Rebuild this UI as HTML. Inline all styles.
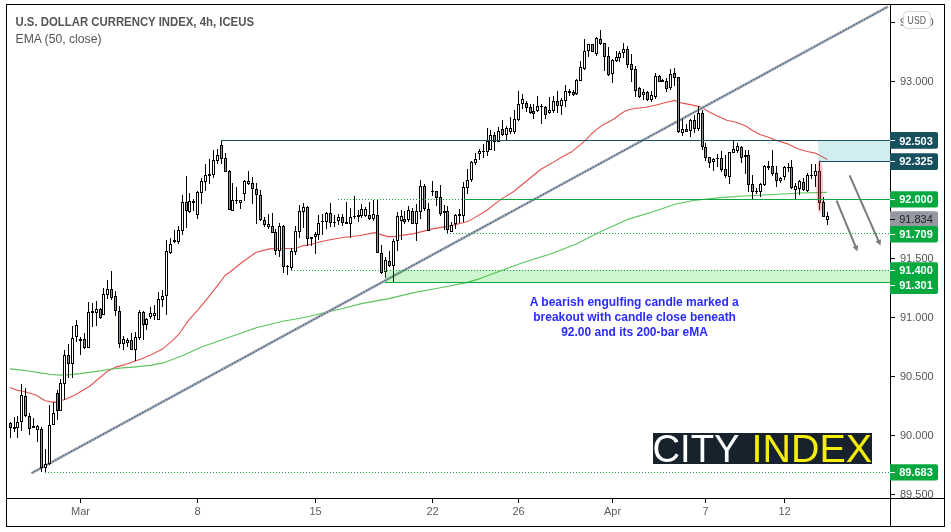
<!DOCTYPE html><html><head><meta charset="utf-8"><style>html,body{margin:0;padding:0;background:#fff;}svg{display:block;will-change:transform}text{font-family:"Liberation Sans",Arial,sans-serif}</style></head><body>
<svg width="951" height="532" viewBox="0 0 951 532">
<rect x="0" y="0" width="951" height="532" fill="#fff"/>
<polyline points="10.0,387.5 17.5,390.4 22.0,391.0 30.0,393.2 36.5,395.2 45.0,400.8 55.0,402.4 65.0,399.5 75.0,395.0 90.0,386.0 97.0,380.0 107.0,371.6 115.0,367.4 125.0,364.6 130.0,362.9 140.3,359.2 150.7,355.0 162.0,349.3 171.3,341.6 179.6,333.3 188.9,319.9 198.2,309.6 208.5,297.2 218.8,283.8 225.0,275.5 230.0,272.0 243.1,261.5 256.3,252.3 269.4,248.9 282.6,248.5 296.0,248.2 303.3,245.6 310.7,244.5 320.4,241.8 332.7,239.2 345.0,237.3 356.0,236.0 361.4,235.3 374.6,232.6 387.7,236.6 393.4,236.6 414.0,233.6 432.6,228.9 450.0,225.9 465.7,222.0 470.0,220.4 485.8,211.0 501.5,198.9 513.4,191.8 527.8,180.0 540.5,169.5 551.0,163.6 561.5,157.3 572.1,151.4 580.9,144.4 585.6,140.2 591.3,134.0 596.9,129.3 602.6,125.1 608.2,122.3 613.9,119.0 619.5,114.8 625.2,111.0 630.8,109.2 636.4,108.3 645.7,107.2 656.2,105.0 666.7,102.3 674.7,100.4 681.4,102.9 700.0,106.6 707.9,111.3 715.8,115.2 726.8,120.3 736.3,122.3 745.7,126.0 752.0,130.2 759.9,134.5 767.8,137.0 775.7,140.2 786.8,143.6 797.8,148.7 807.3,151.5 815.1,153.1 819.9,155.5 827.4,159.4" fill="none" stroke="#e4534f" stroke-width="1.1" stroke-linejoin="round"/>
<polyline points="10.0,368.9 20.0,369.9 30.0,371.2 40.0,372.9 50.0,374.3 60.0,375.1 70.0,374.6 80.0,373.6 95.0,371.6 110.0,369.2 125.0,367.6 130.0,367.4 150.7,365.4 163.0,362.9 181.7,356.1 202.3,346.8 230.0,336.9 240.0,333.4 256.3,327.8 282.6,321.2 300.0,318.3 310.0,316.3 325.0,312.5 340.0,309.3 361.4,303.6 387.7,298.9 414.0,292.6 440.3,287.8 466.6,282.6 480.0,278.6 496.3,272.5 522.6,262.8 548.9,254.4 575.2,244.4 601.4,231.3 627.7,219.4 654.0,211.5 675.0,204.2 693.4,200.5 720.0,197.6 740.0,196.2 765.0,195.0 800.0,193.0 827.0,192.4" fill="none" stroke="#5cc45c" stroke-width="1.1" stroke-linejoin="round"/>
<line x1="31.6" y1="473.2" x2="888" y2="6.6" stroke="#a3a5a9" stroke-width="2.6"/>
<line x1="31.6" y1="473.2" x2="888" y2="6.6" stroke="#2f5f99" stroke-width="1.3" stroke-dasharray="1.2 1.8"/>
<g shape-rendering="crispEdges"><rect x="10" y="422" width="1" height="16" fill="#000"/><rect x="9" y="423" width="3" height="5" fill="#000"/><rect x="10" y="424" width="1" height="3" fill="#8d909c"/><rect x="14" y="417" width="1" height="15" fill="#000"/><rect x="13" y="427" width="3" height="2" fill="#000"/><rect x="17" y="416" width="1" height="22" fill="#000"/><rect x="16" y="422" width="3" height="6" fill="#000"/><rect x="17" y="423" width="1" height="4" fill="#fff"/><rect x="21" y="384" width="1" height="47" fill="#000"/><rect x="20" y="395" width="3" height="27" fill="#000"/><rect x="21" y="396" width="1" height="25" fill="#fff"/><rect x="25" y="388" width="1" height="29" fill="#000"/><rect x="24" y="396" width="3" height="20" fill="#000"/><rect x="25" y="397" width="1" height="18" fill="#8d909c"/><rect x="29" y="413" width="1" height="22" fill="#000"/><rect x="28" y="416" width="3" height="13" fill="#000"/><rect x="29" y="417" width="1" height="11" fill="#8d909c"/><rect x="33" y="418" width="1" height="10" fill="#000"/><rect x="32" y="426" width="3" height="2" fill="#000"/><rect x="37" y="425" width="1" height="17" fill="#000"/><rect x="36" y="426" width="3" height="4" fill="#000"/><rect x="37" y="427" width="1" height="2" fill="#fff"/><rect x="41" y="427" width="1" height="45" fill="#000"/><rect x="40" y="429" width="3" height="39" fill="#000"/><rect x="41" y="430" width="1" height="37" fill="#8d909c"/><rect x="45" y="449" width="1" height="24" fill="#000"/><rect x="44" y="464" width="3" height="4" fill="#000"/><rect x="45" y="465" width="1" height="2" fill="#fff"/><rect x="49" y="405" width="1" height="60" fill="#000"/><rect x="48" y="425" width="3" height="39" fill="#000"/><rect x="49" y="426" width="1" height="37" fill="#fff"/><rect x="53" y="402" width="1" height="23" fill="#000"/><rect x="52" y="413" width="3" height="12" fill="#000"/><rect x="53" y="414" width="1" height="10" fill="#fff"/><rect x="57" y="390" width="1" height="30" fill="#000"/><rect x="56" y="393" width="3" height="18" fill="#000"/><rect x="57" y="394" width="1" height="16" fill="#8d909c"/><rect x="60" y="379" width="1" height="32" fill="#000"/><rect x="59" y="383" width="3" height="28" fill="#000"/><rect x="60" y="384" width="1" height="26" fill="#fff"/><rect x="64" y="350" width="1" height="50" fill="#000"/><rect x="63" y="355" width="3" height="29" fill="#000"/><rect x="64" y="356" width="1" height="27" fill="#fff"/><rect x="68" y="344" width="1" height="34" fill="#000"/><rect x="67" y="355" width="3" height="9" fill="#000"/><rect x="68" y="356" width="1" height="7" fill="#8d909c"/><rect x="72" y="326" width="1" height="52" fill="#000"/><rect x="71" y="338" width="3" height="26" fill="#000"/><rect x="72" y="339" width="1" height="24" fill="#fff"/><rect x="76" y="320" width="1" height="22" fill="#000"/><rect x="75" y="325" width="3" height="12" fill="#000"/><rect x="76" y="326" width="1" height="10" fill="#fff"/><rect x="80" y="337" width="1" height="18" fill="#000"/><rect x="79" y="339" width="3" height="2" fill="#000"/><rect x="84" y="333" width="1" height="16" fill="#000"/><rect x="83" y="339" width="3" height="9" fill="#000"/><rect x="84" y="340" width="1" height="7" fill="#8d909c"/><rect x="88" y="302" width="1" height="46" fill="#000"/><rect x="87" y="312" width="3" height="36" fill="#000"/><rect x="88" y="313" width="1" height="34" fill="#fff"/><rect x="92" y="303" width="1" height="24" fill="#000"/><rect x="91" y="311" width="3" height="2" fill="#000"/><rect x="96" y="301" width="1" height="25" fill="#000"/><rect x="95" y="309" width="3" height="4" fill="#000"/><rect x="96" y="310" width="1" height="2" fill="#fff"/><rect x="100" y="308" width="1" height="11" fill="#000"/><rect x="99" y="309" width="3" height="9" fill="#000"/><rect x="100" y="310" width="1" height="7" fill="#8d909c"/><rect x="103" y="288" width="1" height="27" fill="#000"/><rect x="102" y="294" width="3" height="21" fill="#000"/><rect x="103" y="295" width="1" height="19" fill="#fff"/><rect x="107" y="280" width="1" height="19" fill="#000"/><rect x="106" y="289" width="3" height="6" fill="#000"/><rect x="107" y="290" width="1" height="4" fill="#fff"/><rect x="111" y="271" width="1" height="29" fill="#000"/><rect x="110" y="289" width="3" height="9" fill="#000"/><rect x="111" y="290" width="1" height="7" fill="#8d909c"/><rect x="115" y="291" width="1" height="25" fill="#000"/><rect x="114" y="296" width="3" height="15" fill="#000"/><rect x="115" y="297" width="1" height="13" fill="#8d909c"/><rect x="119" y="306" width="1" height="42" fill="#000"/><rect x="118" y="311" width="3" height="33" fill="#000"/><rect x="119" y="312" width="1" height="31" fill="#8d909c"/><rect x="123" y="336" width="1" height="14" fill="#000"/><rect x="122" y="339" width="3" height="5" fill="#000"/><rect x="123" y="340" width="1" height="3" fill="#fff"/><rect x="127" y="338" width="1" height="9" fill="#000"/><rect x="126" y="340" width="3" height="3" fill="#000"/><rect x="127" y="341" width="1" height="1" fill="#fff"/><rect x="131" y="333" width="1" height="17" fill="#000"/><rect x="130" y="340" width="3" height="10" fill="#000"/><rect x="131" y="341" width="1" height="8" fill="#8d909c"/><rect x="135" y="332" width="1" height="29" fill="#000"/><rect x="134" y="337" width="3" height="13" fill="#000"/><rect x="135" y="338" width="1" height="11" fill="#fff"/><rect x="139" y="310" width="1" height="30" fill="#000"/><rect x="138" y="312" width="3" height="26" fill="#000"/><rect x="139" y="313" width="1" height="24" fill="#fff"/><rect x="143" y="311" width="1" height="29" fill="#000"/><rect x="142" y="312" width="3" height="13" fill="#000"/><rect x="143" y="313" width="1" height="11" fill="#8d909c"/><rect x="146" y="318" width="1" height="12" fill="#000"/><rect x="145" y="319" width="3" height="6" fill="#000"/><rect x="146" y="320" width="1" height="4" fill="#fff"/><rect x="150" y="307" width="1" height="12" fill="#000"/><rect x="149" y="313" width="3" height="4" fill="#000"/><rect x="150" y="314" width="1" height="2" fill="#fff"/><rect x="154" y="305" width="1" height="15" fill="#000"/><rect x="153" y="313" width="3" height="3" fill="#000"/><rect x="154" y="314" width="1" height="1" fill="#fff"/><rect x="158" y="292" width="1" height="28" fill="#000"/><rect x="157" y="299" width="3" height="21" fill="#000"/><rect x="158" y="300" width="1" height="19" fill="#fff"/><rect x="162" y="290" width="1" height="17" fill="#000"/><rect x="161" y="296" width="3" height="4" fill="#000"/><rect x="162" y="297" width="1" height="2" fill="#fff"/><rect x="166" y="240" width="1" height="75" fill="#000"/><rect x="165" y="251" width="3" height="45" fill="#000"/><rect x="166" y="252" width="1" height="43" fill="#fff"/><rect x="170" y="238" width="1" height="16" fill="#000"/><rect x="169" y="244" width="3" height="9" fill="#000"/><rect x="170" y="245" width="1" height="7" fill="#fff"/><rect x="174" y="230" width="1" height="13" fill="#000"/><rect x="173" y="240" width="3" height="2" fill="#000"/><rect x="178" y="226" width="1" height="18" fill="#000"/><rect x="177" y="230" width="3" height="12" fill="#000"/><rect x="178" y="231" width="1" height="10" fill="#fff"/><rect x="182" y="195" width="1" height="40" fill="#000"/><rect x="181" y="202" width="3" height="29" fill="#000"/><rect x="182" y="203" width="1" height="27" fill="#fff"/><rect x="186" y="176" width="1" height="52" fill="#000"/><rect x="185" y="202" width="3" height="9" fill="#000"/><rect x="186" y="203" width="1" height="7" fill="#8d909c"/><rect x="189" y="193" width="1" height="20" fill="#000"/><rect x="188" y="201" width="3" height="11" fill="#000"/><rect x="189" y="202" width="1" height="9" fill="#fff"/><rect x="193" y="199" width="1" height="12" fill="#000"/><rect x="192" y="201" width="3" height="2" fill="#000"/><rect x="197" y="191" width="1" height="28" fill="#000"/><rect x="196" y="192" width="3" height="23" fill="#000"/><rect x="197" y="193" width="1" height="21" fill="#fff"/><rect x="201" y="178" width="1" height="26" fill="#000"/><rect x="200" y="181" width="3" height="12" fill="#000"/><rect x="201" y="182" width="1" height="10" fill="#fff"/><rect x="205" y="164" width="1" height="27" fill="#000"/><rect x="204" y="175" width="3" height="7" fill="#000"/><rect x="205" y="176" width="1" height="5" fill="#fff"/><rect x="209" y="159" width="1" height="25" fill="#000"/><rect x="208" y="174" width="3" height="2" fill="#000"/><rect x="213" y="150" width="1" height="28" fill="#000"/><rect x="212" y="160" width="3" height="15" fill="#000"/><rect x="213" y="161" width="1" height="13" fill="#fff"/><rect x="217" y="149" width="1" height="15" fill="#000"/><rect x="216" y="155" width="3" height="6" fill="#000"/><rect x="217" y="156" width="1" height="4" fill="#fff"/><rect x="221" y="140" width="1" height="24" fill="#000"/><rect x="220" y="145" width="3" height="14" fill="#000"/><rect x="221" y="146" width="1" height="12" fill="#8d909c"/><rect x="225" y="153" width="1" height="19" fill="#000"/><rect x="224" y="158" width="3" height="14" fill="#000"/><rect x="225" y="159" width="1" height="12" fill="#8d909c"/><rect x="229" y="170" width="1" height="40" fill="#000"/><rect x="228" y="171" width="3" height="39" fill="#000"/><rect x="229" y="172" width="1" height="37" fill="#8d909c"/><rect x="232" y="183" width="1" height="28" fill="#000"/><rect x="231" y="200" width="3" height="11" fill="#000"/><rect x="232" y="201" width="1" height="9" fill="#fff"/><rect x="236" y="187" width="1" height="17" fill="#000"/><rect x="235" y="200" width="3" height="1" fill="#000"/><rect x="240" y="200" width="1" height="9" fill="#000"/><rect x="239" y="200" width="3" height="3" fill="#000"/><rect x="240" y="201" width="1" height="1" fill="#fff"/><rect x="244" y="180" width="1" height="21" fill="#000"/><rect x="243" y="181" width="3" height="13" fill="#000"/><rect x="244" y="182" width="1" height="11" fill="#fff"/><rect x="248" y="171" width="1" height="14" fill="#000"/><rect x="247" y="181" width="3" height="3" fill="#000"/><rect x="248" y="182" width="1" height="1" fill="#fff"/><rect x="252" y="177" width="1" height="27" fill="#000"/><rect x="251" y="183" width="3" height="6" fill="#000"/><rect x="252" y="184" width="1" height="4" fill="#8d909c"/><rect x="256" y="183" width="1" height="41" fill="#000"/><rect x="255" y="189" width="3" height="6" fill="#000"/><rect x="256" y="190" width="1" height="4" fill="#8d909c"/><rect x="260" y="190" width="1" height="31" fill="#000"/><rect x="259" y="195" width="3" height="25" fill="#000"/><rect x="260" y="196" width="1" height="23" fill="#8d909c"/><rect x="264" y="217" width="1" height="10" fill="#000"/><rect x="263" y="220" width="3" height="5" fill="#000"/><rect x="264" y="221" width="1" height="3" fill="#8d909c"/><rect x="268" y="214" width="1" height="15" fill="#000"/><rect x="267" y="224" width="3" height="3" fill="#000"/><rect x="268" y="225" width="1" height="1" fill="#fff"/><rect x="272" y="213" width="1" height="20" fill="#000"/><rect x="271" y="226" width="3" height="7" fill="#000"/><rect x="272" y="227" width="1" height="5" fill="#8d909c"/><rect x="275" y="229" width="1" height="26" fill="#000"/><rect x="274" y="232" width="3" height="19" fill="#000"/><rect x="275" y="233" width="1" height="17" fill="#8d909c"/><rect x="279" y="223" width="1" height="34" fill="#000"/><rect x="278" y="226" width="3" height="25" fill="#000"/><rect x="279" y="227" width="1" height="23" fill="#fff"/><rect x="283" y="225" width="1" height="48" fill="#000"/><rect x="282" y="226" width="3" height="41" fill="#000"/><rect x="283" y="227" width="1" height="39" fill="#8d909c"/><rect x="287" y="265" width="1" height="10" fill="#000"/><rect x="286" y="266" width="3" height="1" fill="#000"/><rect x="291" y="248" width="1" height="23" fill="#000"/><rect x="290" y="251" width="3" height="17" fill="#000"/><rect x="291" y="252" width="1" height="15" fill="#fff"/><rect x="295" y="226" width="1" height="29" fill="#000"/><rect x="294" y="231" width="3" height="21" fill="#000"/><rect x="295" y="232" width="1" height="19" fill="#fff"/><rect x="299" y="205" width="1" height="33" fill="#000"/><rect x="298" y="211" width="3" height="21" fill="#000"/><rect x="299" y="212" width="1" height="19" fill="#fff"/><rect x="303" y="203" width="1" height="25" fill="#000"/><rect x="302" y="207" width="3" height="5" fill="#000"/><rect x="303" y="208" width="1" height="3" fill="#fff"/><rect x="307" y="206" width="1" height="40" fill="#000"/><rect x="306" y="207" width="3" height="32" fill="#000"/><rect x="307" y="208" width="1" height="30" fill="#8d909c"/><rect x="311" y="237" width="1" height="9" fill="#000"/><rect x="310" y="237" width="3" height="2" fill="#000"/><rect x="315" y="232" width="1" height="22" fill="#000"/><rect x="314" y="234" width="3" height="3" fill="#000"/><rect x="315" y="235" width="1" height="1" fill="#fff"/><rect x="318" y="215" width="1" height="25" fill="#000"/><rect x="317" y="223" width="3" height="12" fill="#000"/><rect x="318" y="224" width="1" height="10" fill="#fff"/><rect x="322" y="214" width="1" height="21" fill="#000"/><rect x="321" y="221" width="3" height="1" fill="#000"/><rect x="326" y="212" width="1" height="17" fill="#000"/><rect x="325" y="213" width="3" height="9" fill="#000"/><rect x="326" y="214" width="1" height="7" fill="#fff"/><rect x="330" y="203" width="1" height="24" fill="#000"/><rect x="329" y="213" width="3" height="10" fill="#000"/><rect x="330" y="214" width="1" height="8" fill="#8d909c"/><rect x="334" y="215" width="1" height="12" fill="#000"/><rect x="333" y="222" width="3" height="1" fill="#000"/><rect x="338" y="214" width="1" height="11" fill="#000"/><rect x="337" y="217" width="3" height="4" fill="#000"/><rect x="338" y="218" width="1" height="2" fill="#fff"/><rect x="342" y="214" width="1" height="12" fill="#000"/><rect x="341" y="217" width="3" height="6" fill="#000"/><rect x="342" y="218" width="1" height="4" fill="#8d909c"/><rect x="346" y="202" width="1" height="22" fill="#000"/><rect x="345" y="222" width="3" height="2" fill="#000"/><rect x="350" y="208" width="1" height="30" fill="#000"/><rect x="349" y="217" width="3" height="7" fill="#000"/><rect x="350" y="218" width="1" height="5" fill="#fff"/><rect x="354" y="196" width="1" height="23" fill="#000"/><rect x="353" y="216" width="3" height="1" fill="#000"/><rect x="358" y="210" width="1" height="12" fill="#000"/><rect x="357" y="215" width="3" height="2" fill="#000"/><rect x="361" y="204" width="1" height="14" fill="#000"/><rect x="360" y="209" width="3" height="7" fill="#000"/><rect x="361" y="210" width="1" height="5" fill="#fff"/><rect x="365" y="207" width="1" height="10" fill="#000"/><rect x="364" y="209" width="3" height="7" fill="#000"/><rect x="365" y="210" width="1" height="5" fill="#fff"/><rect x="369" y="202" width="1" height="18" fill="#000"/><rect x="368" y="215" width="3" height="4" fill="#000"/><rect x="369" y="216" width="1" height="2" fill="#8d909c"/><rect x="373" y="200" width="1" height="21" fill="#000"/><rect x="372" y="214" width="3" height="5" fill="#000"/><rect x="373" y="215" width="1" height="3" fill="#fff"/><rect x="377" y="199" width="1" height="54" fill="#000"/><rect x="376" y="215" width="3" height="38" fill="#000"/><rect x="377" y="216" width="1" height="36" fill="#8d909c"/><rect x="381" y="245" width="1" height="29" fill="#000"/><rect x="380" y="253" width="3" height="20" fill="#000"/><rect x="381" y="254" width="1" height="18" fill="#8d909c"/><rect x="385" y="257" width="1" height="21" fill="#000"/><rect x="384" y="260" width="3" height="12" fill="#000"/><rect x="385" y="261" width="1" height="10" fill="#fff"/><rect x="389" y="251" width="1" height="16" fill="#000"/><rect x="388" y="261" width="3" height="5" fill="#000"/><rect x="389" y="262" width="1" height="3" fill="#8d909c"/><rect x="393" y="239" width="1" height="44" fill="#000"/><rect x="392" y="241" width="3" height="25" fill="#000"/><rect x="393" y="242" width="1" height="23" fill="#fff"/><rect x="397" y="212" width="1" height="39" fill="#000"/><rect x="396" y="216" width="3" height="25" fill="#000"/><rect x="397" y="217" width="1" height="23" fill="#fff"/><rect x="401" y="210" width="1" height="30" fill="#000"/><rect x="400" y="216" width="3" height="5" fill="#000"/><rect x="401" y="217" width="1" height="3" fill="#fff"/><rect x="404" y="211" width="1" height="13" fill="#000"/><rect x="403" y="219" width="3" height="3" fill="#000"/><rect x="404" y="220" width="1" height="1" fill="#8d909c"/><rect x="408" y="206" width="1" height="16" fill="#000"/><rect x="407" y="210" width="3" height="10" fill="#000"/><rect x="408" y="211" width="1" height="8" fill="#fff"/><rect x="412" y="208" width="1" height="16" fill="#000"/><rect x="411" y="211" width="3" height="13" fill="#000"/><rect x="412" y="212" width="1" height="11" fill="#8d909c"/><rect x="416" y="204" width="1" height="37" fill="#000"/><rect x="415" y="211" width="3" height="13" fill="#000"/><rect x="416" y="212" width="1" height="11" fill="#fff"/><rect x="420" y="180" width="1" height="39" fill="#000"/><rect x="419" y="186" width="3" height="26" fill="#000"/><rect x="420" y="187" width="1" height="24" fill="#fff"/><rect x="424" y="184" width="1" height="27" fill="#000"/><rect x="423" y="186" width="3" height="23" fill="#000"/><rect x="424" y="187" width="1" height="21" fill="#8d909c"/><rect x="428" y="203" width="1" height="28" fill="#000"/><rect x="427" y="209" width="3" height="22" fill="#000"/><rect x="428" y="210" width="1" height="20" fill="#8d909c"/><rect x="432" y="181" width="1" height="15" fill="#000"/><rect x="431" y="191" width="3" height="1" fill="#000"/><rect x="436" y="191" width="1" height="15" fill="#000"/><rect x="435" y="191" width="3" height="7" fill="#000"/><rect x="436" y="192" width="1" height="5" fill="#8d909c"/><rect x="440" y="185" width="1" height="31" fill="#000"/><rect x="439" y="197" width="3" height="17" fill="#000"/><rect x="440" y="198" width="1" height="15" fill="#8d909c"/><rect x="444" y="205" width="1" height="25" fill="#000"/><rect x="443" y="211" width="3" height="2" fill="#000"/><rect x="447" y="206" width="1" height="27" fill="#000"/><rect x="446" y="211" width="3" height="19" fill="#000"/><rect x="447" y="212" width="1" height="17" fill="#8d909c"/><rect x="451" y="222" width="1" height="10" fill="#000"/><rect x="450" y="225" width="3" height="7" fill="#000"/><rect x="451" y="226" width="1" height="5" fill="#fff"/><rect x="455" y="214" width="1" height="15" fill="#000"/><rect x="454" y="215" width="3" height="9" fill="#000"/><rect x="455" y="216" width="1" height="7" fill="#fff"/><rect x="459" y="209" width="1" height="14" fill="#000"/><rect x="458" y="214" width="3" height="2" fill="#000"/><rect x="463" y="182" width="1" height="40" fill="#000"/><rect x="462" y="187" width="3" height="29" fill="#000"/><rect x="463" y="188" width="1" height="27" fill="#fff"/><rect x="467" y="169" width="1" height="25" fill="#000"/><rect x="466" y="180" width="3" height="8" fill="#000"/><rect x="467" y="181" width="1" height="6" fill="#fff"/><rect x="471" y="161" width="1" height="21" fill="#000"/><rect x="470" y="162" width="3" height="18" fill="#000"/><rect x="471" y="163" width="1" height="16" fill="#fff"/><rect x="475" y="153" width="1" height="12" fill="#000"/><rect x="474" y="159" width="3" height="4" fill="#000"/><rect x="475" y="160" width="1" height="2" fill="#fff"/><rect x="479" y="149" width="1" height="11" fill="#000"/><rect x="478" y="151" width="3" height="3" fill="#000"/><rect x="479" y="152" width="1" height="1" fill="#fff"/><rect x="483" y="144" width="1" height="14" fill="#000"/><rect x="482" y="151" width="3" height="1" fill="#000"/><rect x="487" y="128" width="1" height="28" fill="#000"/><rect x="486" y="141" width="3" height="11" fill="#000"/><rect x="487" y="142" width="1" height="9" fill="#fff"/><rect x="490" y="130" width="1" height="20" fill="#000"/><rect x="489" y="135" width="3" height="15" fill="#000"/><rect x="490" y="136" width="1" height="13" fill="#fff"/><rect x="494" y="132" width="1" height="19" fill="#000"/><rect x="493" y="135" width="3" height="7" fill="#000"/><rect x="494" y="136" width="1" height="5" fill="#8d909c"/><rect x="498" y="127" width="1" height="15" fill="#000"/><rect x="497" y="131" width="3" height="11" fill="#000"/><rect x="498" y="132" width="1" height="9" fill="#fff"/><rect x="502" y="120" width="1" height="16" fill="#000"/><rect x="501" y="129" width="3" height="6" fill="#000"/><rect x="502" y="130" width="1" height="4" fill="#8d909c"/><rect x="506" y="126" width="1" height="14" fill="#000"/><rect x="505" y="128" width="3" height="7" fill="#000"/><rect x="506" y="129" width="1" height="5" fill="#fff"/><rect x="510" y="117" width="1" height="17" fill="#000"/><rect x="509" y="128" width="3" height="4" fill="#000"/><rect x="510" y="129" width="1" height="2" fill="#fff"/><rect x="514" y="110" width="1" height="24" fill="#000"/><rect x="513" y="119" width="3" height="13" fill="#000"/><rect x="514" y="120" width="1" height="11" fill="#fff"/><rect x="518" y="91" width="1" height="30" fill="#000"/><rect x="517" y="104" width="3" height="16" fill="#000"/><rect x="518" y="105" width="1" height="14" fill="#fff"/><rect x="522" y="94" width="1" height="15" fill="#000"/><rect x="521" y="99" width="3" height="5" fill="#000"/><rect x="522" y="100" width="1" height="3" fill="#fff"/><rect x="526" y="101" width="1" height="11" fill="#000"/><rect x="525" y="103" width="3" height="5" fill="#000"/><rect x="526" y="104" width="1" height="3" fill="#8d909c"/><rect x="530" y="104" width="1" height="10" fill="#000"/><rect x="529" y="107" width="3" height="6" fill="#000"/><rect x="530" y="108" width="1" height="4" fill="#8d909c"/><rect x="533" y="104" width="1" height="15" fill="#000"/><rect x="532" y="111" width="3" height="3" fill="#000"/><rect x="533" y="112" width="1" height="1" fill="#8d909c"/><rect x="537" y="96" width="1" height="16" fill="#000"/><rect x="536" y="106" width="3" height="5" fill="#000"/><rect x="537" y="107" width="1" height="3" fill="#fff"/><rect x="541" y="104" width="1" height="20" fill="#000"/><rect x="540" y="106" width="3" height="1" fill="#000"/><rect x="545" y="106" width="1" height="13" fill="#000"/><rect x="544" y="107" width="3" height="8" fill="#000"/><rect x="545" y="108" width="1" height="6" fill="#8d909c"/><rect x="549" y="97" width="1" height="17" fill="#000"/><rect x="548" y="110" width="3" height="3" fill="#000"/><rect x="549" y="111" width="1" height="1" fill="#fff"/><rect x="553" y="96" width="1" height="17" fill="#000"/><rect x="552" y="101" width="3" height="10" fill="#000"/><rect x="553" y="102" width="1" height="8" fill="#fff"/><rect x="557" y="91" width="1" height="22" fill="#000"/><rect x="556" y="101" width="3" height="5" fill="#000"/><rect x="557" y="102" width="1" height="3" fill="#8d909c"/><rect x="561" y="98" width="1" height="17" fill="#000"/><rect x="560" y="100" width="3" height="6" fill="#000"/><rect x="561" y="101" width="1" height="4" fill="#fff"/><rect x="565" y="85" width="1" height="22" fill="#000"/><rect x="564" y="91" width="3" height="10" fill="#000"/><rect x="565" y="92" width="1" height="8" fill="#fff"/><rect x="569" y="89" width="1" height="7" fill="#000"/><rect x="568" y="91" width="3" height="2" fill="#000"/><rect x="573" y="90" width="1" height="6" fill="#000"/><rect x="572" y="92" width="3" height="3" fill="#000"/><rect x="573" y="93" width="1" height="1" fill="#8d909c"/><rect x="576" y="79" width="1" height="16" fill="#000"/><rect x="575" y="80" width="3" height="14" fill="#000"/><rect x="576" y="81" width="1" height="12" fill="#fff"/><rect x="580" y="61" width="1" height="20" fill="#000"/><rect x="579" y="67" width="3" height="14" fill="#000"/><rect x="580" y="68" width="1" height="12" fill="#fff"/><rect x="584" y="39" width="1" height="31" fill="#000"/><rect x="583" y="51" width="3" height="18" fill="#000"/><rect x="584" y="52" width="1" height="16" fill="#fff"/><rect x="588" y="44" width="1" height="13" fill="#000"/><rect x="587" y="44" width="3" height="7" fill="#000"/><rect x="588" y="45" width="1" height="5" fill="#fff"/><rect x="592" y="44" width="1" height="8" fill="#000"/><rect x="591" y="44" width="3" height="8" fill="#000"/><rect x="592" y="45" width="1" height="6" fill="#8d909c"/><rect x="596" y="37" width="1" height="19" fill="#000"/><rect x="595" y="38" width="3" height="16" fill="#000"/><rect x="596" y="39" width="1" height="14" fill="#fff"/><rect x="600" y="30" width="1" height="15" fill="#000"/><rect x="599" y="39" width="3" height="5" fill="#000"/><rect x="600" y="40" width="1" height="3" fill="#8d909c"/><rect x="604" y="43" width="1" height="28" fill="#000"/><rect x="603" y="43" width="3" height="14" fill="#000"/><rect x="604" y="44" width="1" height="12" fill="#8d909c"/><rect x="608" y="47" width="1" height="29" fill="#000"/><rect x="607" y="56" width="3" height="19" fill="#000"/><rect x="608" y="57" width="1" height="17" fill="#8d909c"/><rect x="612" y="59" width="1" height="24" fill="#000"/><rect x="611" y="60" width="3" height="14" fill="#000"/><rect x="612" y="61" width="1" height="12" fill="#fff"/><rect x="616" y="51" width="1" height="11" fill="#000"/><rect x="615" y="57" width="3" height="4" fill="#000"/><rect x="616" y="58" width="1" height="2" fill="#fff"/><rect x="619" y="51" width="1" height="11" fill="#000"/><rect x="618" y="53" width="3" height="5" fill="#000"/><rect x="619" y="54" width="1" height="3" fill="#fff"/><rect x="623" y="43" width="1" height="15" fill="#000"/><rect x="622" y="49" width="3" height="4" fill="#000"/><rect x="623" y="50" width="1" height="2" fill="#fff"/><rect x="627" y="46" width="1" height="22" fill="#000"/><rect x="626" y="49" width="3" height="16" fill="#000"/><rect x="627" y="50" width="1" height="14" fill="#8d909c"/><rect x="631" y="54" width="1" height="28" fill="#000"/><rect x="630" y="64" width="3" height="6" fill="#000"/><rect x="631" y="65" width="1" height="4" fill="#8d909c"/><rect x="635" y="66" width="1" height="31" fill="#000"/><rect x="634" y="69" width="3" height="22" fill="#000"/><rect x="635" y="70" width="1" height="20" fill="#8d909c"/><rect x="639" y="87" width="1" height="11" fill="#000"/><rect x="638" y="88" width="3" height="9" fill="#000"/><rect x="639" y="89" width="1" height="7" fill="#8d909c"/><rect x="643" y="89" width="1" height="11" fill="#000"/><rect x="642" y="92" width="3" height="3" fill="#000"/><rect x="643" y="93" width="1" height="1" fill="#fff"/><rect x="647" y="91" width="1" height="10" fill="#000"/><rect x="646" y="92" width="3" height="8" fill="#000"/><rect x="647" y="93" width="1" height="6" fill="#8d909c"/><rect x="651" y="91" width="1" height="11" fill="#000"/><rect x="650" y="95" width="3" height="5" fill="#000"/><rect x="651" y="96" width="1" height="3" fill="#fff"/><rect x="655" y="73" width="1" height="26" fill="#000"/><rect x="654" y="76" width="3" height="21" fill="#000"/><rect x="655" y="77" width="1" height="19" fill="#fff"/><rect x="659" y="75" width="1" height="7" fill="#000"/><rect x="658" y="76" width="3" height="6" fill="#000"/><rect x="659" y="77" width="1" height="4" fill="#8d909c"/><rect x="662" y="79" width="1" height="3" fill="#000"/><rect x="661" y="80" width="3" height="2" fill="#000"/><rect x="666" y="78" width="1" height="14" fill="#000"/><rect x="665" y="81" width="3" height="8" fill="#000"/><rect x="666" y="82" width="1" height="6" fill="#8d909c"/><rect x="670" y="69" width="1" height="21" fill="#000"/><rect x="669" y="74" width="3" height="14" fill="#000"/><rect x="670" y="75" width="1" height="12" fill="#fff"/><rect x="674" y="68" width="1" height="18" fill="#000"/><rect x="673" y="73" width="3" height="5" fill="#000"/><rect x="674" y="74" width="1" height="3" fill="#8d909c"/><rect x="678" y="77" width="1" height="56" fill="#000"/><rect x="677" y="77" width="3" height="55" fill="#000"/><rect x="678" y="78" width="1" height="53" fill="#8d909c"/><rect x="682" y="119" width="1" height="17" fill="#000"/><rect x="681" y="129" width="3" height="4" fill="#000"/><rect x="682" y="130" width="1" height="2" fill="#fff"/><rect x="686" y="124" width="1" height="8" fill="#000"/><rect x="685" y="129" width="3" height="3" fill="#000"/><rect x="686" y="130" width="1" height="1" fill="#8d909c"/><rect x="690" y="119" width="1" height="18" fill="#000"/><rect x="689" y="120" width="3" height="11" fill="#000"/><rect x="690" y="121" width="1" height="9" fill="#fff"/><rect x="694" y="115" width="1" height="18" fill="#000"/><rect x="693" y="120" width="3" height="9" fill="#000"/><rect x="694" y="121" width="1" height="7" fill="#8d909c"/><rect x="698" y="106" width="1" height="25" fill="#000"/><rect x="697" y="113" width="3" height="16" fill="#000"/><rect x="698" y="114" width="1" height="14" fill="#fff"/><rect x="702" y="110" width="1" height="40" fill="#000"/><rect x="701" y="113" width="3" height="34" fill="#000"/><rect x="702" y="114" width="1" height="32" fill="#8d909c"/><rect x="705" y="143" width="1" height="18" fill="#000"/><rect x="704" y="147" width="3" height="11" fill="#000"/><rect x="705" y="148" width="1" height="9" fill="#8d909c"/><rect x="709" y="157" width="1" height="11" fill="#000"/><rect x="708" y="157" width="3" height="6" fill="#000"/><rect x="709" y="158" width="1" height="4" fill="#8d909c"/><rect x="713" y="158" width="1" height="13" fill="#000"/><rect x="712" y="159" width="3" height="3" fill="#000"/><rect x="713" y="160" width="1" height="1" fill="#fff"/><rect x="717" y="154" width="1" height="13" fill="#000"/><rect x="716" y="158" width="3" height="1" fill="#000"/><rect x="721" y="151" width="1" height="21" fill="#000"/><rect x="720" y="158" width="3" height="12" fill="#000"/><rect x="721" y="159" width="1" height="10" fill="#8d909c"/><rect x="725" y="155" width="1" height="23" fill="#000"/><rect x="724" y="169" width="3" height="7" fill="#000"/><rect x="725" y="170" width="1" height="5" fill="#8d909c"/><rect x="729" y="152" width="1" height="32" fill="#000"/><rect x="728" y="152" width="3" height="25" fill="#000"/><rect x="729" y="153" width="1" height="23" fill="#fff"/><rect x="733" y="141" width="1" height="12" fill="#000"/><rect x="732" y="149" width="3" height="4" fill="#000"/><rect x="733" y="150" width="1" height="2" fill="#fff"/><rect x="737" y="143" width="1" height="10" fill="#000"/><rect x="736" y="146" width="3" height="5" fill="#000"/><rect x="737" y="147" width="1" height="3" fill="#fff"/><rect x="741" y="146" width="1" height="17" fill="#000"/><rect x="740" y="147" width="3" height="11" fill="#000"/><rect x="741" y="148" width="1" height="9" fill="#8d909c"/><rect x="745" y="150" width="1" height="24" fill="#000"/><rect x="744" y="155" width="3" height="2" fill="#000"/><rect x="748" y="150" width="1" height="42" fill="#000"/><rect x="747" y="155" width="3" height="30" fill="#000"/><rect x="748" y="156" width="1" height="28" fill="#8d909c"/><rect x="752" y="175" width="1" height="24" fill="#000"/><rect x="751" y="184" width="3" height="8" fill="#000"/><rect x="752" y="185" width="1" height="6" fill="#8d909c"/><rect x="756" y="188" width="1" height="6" fill="#000"/><rect x="755" y="191" width="3" height="1" fill="#000"/><rect x="760" y="183" width="1" height="14" fill="#000"/><rect x="759" y="184" width="3" height="8" fill="#000"/><rect x="760" y="185" width="1" height="6" fill="#fff"/><rect x="764" y="165" width="1" height="21" fill="#000"/><rect x="763" y="166" width="3" height="19" fill="#000"/><rect x="764" y="167" width="1" height="17" fill="#fff"/><rect x="768" y="161" width="1" height="9" fill="#000"/><rect x="767" y="166" width="3" height="2" fill="#000"/><rect x="772" y="150" width="1" height="26" fill="#000"/><rect x="771" y="166" width="3" height="8" fill="#000"/><rect x="772" y="167" width="1" height="6" fill="#8d909c"/><rect x="776" y="166" width="1" height="21" fill="#000"/><rect x="775" y="173" width="3" height="8" fill="#000"/><rect x="776" y="174" width="1" height="6" fill="#8d909c"/><rect x="780" y="177" width="1" height="6" fill="#000"/><rect x="779" y="178" width="3" height="3" fill="#000"/><rect x="780" y="179" width="1" height="1" fill="#fff"/><rect x="784" y="166" width="1" height="14" fill="#000"/><rect x="783" y="167" width="3" height="10" fill="#000"/><rect x="784" y="168" width="1" height="8" fill="#fff"/><rect x="788" y="163" width="1" height="9" fill="#000"/><rect x="787" y="167" width="3" height="1" fill="#000"/><rect x="791" y="160" width="1" height="29" fill="#000"/><rect x="790" y="167" width="3" height="21" fill="#000"/><rect x="791" y="168" width="1" height="19" fill="#8d909c"/><rect x="795" y="183" width="1" height="16" fill="#000"/><rect x="794" y="186" width="3" height="4" fill="#000"/><rect x="795" y="187" width="1" height="2" fill="#fff"/><rect x="799" y="180" width="1" height="15" fill="#000"/><rect x="798" y="181" width="3" height="8" fill="#000"/><rect x="799" y="182" width="1" height="6" fill="#fff"/><rect x="803" y="178" width="1" height="13" fill="#000"/><rect x="802" y="182" width="3" height="8" fill="#000"/><rect x="803" y="183" width="1" height="6" fill="#8d909c"/><rect x="807" y="173" width="1" height="19" fill="#000"/><rect x="806" y="175" width="3" height="16" fill="#000"/><rect x="807" y="176" width="1" height="14" fill="#fff"/><rect x="811" y="164" width="1" height="15" fill="#000"/><rect x="810" y="175" width="3" height="1" fill="#000"/><rect x="815" y="164" width="1" height="23" fill="#000"/><rect x="814" y="171" width="3" height="5" fill="#000"/><rect x="815" y="172" width="1" height="3" fill="#fff"/><rect x="819" y="161" width="1" height="49" fill="#000"/><rect x="818" y="171" width="3" height="32" fill="#000"/><rect x="819" y="172" width="1" height="30" fill="#8d909c"/><rect x="823" y="197" width="1" height="20" fill="#000"/><rect x="822" y="202" width="3" height="15" fill="#000"/><rect x="823" y="203" width="1" height="13" fill="#8d909c"/><rect x="827" y="212" width="1" height="13" fill="#000"/><rect x="826" y="216" width="3" height="4" fill="#000"/><rect x="827" y="217" width="1" height="2" fill="#fff"/></g>
<ellipse cx="819.7" cy="186.4" rx="3.4" ry="27.2" fill="rgba(242,70,80,0.3)"/>
<line x1="836.6" y1="200.7" x2="855.78" y2="247.14" stroke="#7b7b7b" stroke-width="2"/><polygon points="857.5,251.3 852.63,247.36 858.17,245.07" fill="#7b7b7b"/>
<line x1="849.6" y1="175.4" x2="878.68" y2="241.28" stroke="#7b7b7b" stroke-width="2"/><polygon points="880.5,245.4 875.53,241.58 881.02,239.16" fill="#7b7b7b"/>
<rect x="818" y="140" width="72" height="21" fill="rgba(25,165,180,0.2)"/>
<rect x="385" y="270" width="505" height="12" fill="rgba(8,205,8,0.2)"/>
<rect x="221" y="140" width="669" height="1" fill="#1c4f5f" shape-rendering="crispEdges"/>
<rect x="819" y="161" width="71" height="1" fill="#1c4f5f" shape-rendering="crispEdges"/>
<g fill="#0ea640" shape-rendering="crispEdges"><rect x="338" y="199" width="1" height="1"/><rect x="341" y="199" width="1" height="1"/><rect x="344" y="199" width="1" height="1"/><rect x="347" y="199" width="1" height="1"/><rect x="350" y="199" width="1" height="1"/><rect x="353" y="199" width="1" height="1"/><rect x="356" y="199" width="1" height="1"/><rect x="359" y="199" width="1" height="1"/><rect x="362" y="199" width="1" height="1"/><rect x="365" y="199" width="1" height="1"/><rect x="368" y="199" width="1" height="1"/><rect x="371" y="199" width="1" height="1"/><rect x="374" y="199" width="1" height="1"/><rect x="377" y="199" width="1" height="1"/><rect x="380" y="199" width="1" height="1"/><rect x="383" y="199" width="1" height="1"/><rect x="386" y="199" width="1" height="1"/><rect x="389" y="199" width="1" height="1"/><rect x="392" y="199" width="1" height="1"/><rect x="395" y="199" width="1" height="1"/><rect x="398" y="199" width="1" height="1"/><rect x="401" y="199" width="1" height="1"/><rect x="404" y="199" width="1" height="1"/><rect x="407" y="199" width="1" height="1"/><rect x="410" y="199" width="1" height="1"/><rect x="413" y="199" width="1" height="1"/><rect x="416" y="199" width="1" height="1"/><rect x="419" y="199" width="1" height="1"/><rect x="422" y="199" width="1" height="1"/><rect x="425" y="199" width="1" height="1"/><rect x="428" y="199" width="1" height="1"/><rect x="431" y="199" width="1" height="1"/><rect x="434" y="199" width="1" height="1"/><rect x="437" y="199" width="1" height="1"/><rect x="440" y="199" width="1" height="1"/><rect x="443" y="199" width="1" height="1"/><rect x="446" y="199" width="1" height="1"/><rect x="449" y="199" width="1" height="1"/><rect x="452" y="199" width="1" height="1"/><rect x="455" y="199" width="1" height="1"/><rect x="458" y="199" width="1" height="1"/><rect x="461" y="199" width="1" height="1"/></g>
<rect x="464" y="199" width="426" height="1" fill="#0ea640" shape-rendering="crispEdges"/>
<g fill="#0ea640" shape-rendering="crispEdges"><rect x="447" y="233" width="1" height="1"/><rect x="450" y="233" width="1" height="1"/><rect x="453" y="233" width="1" height="1"/><rect x="456" y="233" width="1" height="1"/><rect x="459" y="233" width="1" height="1"/><rect x="462" y="233" width="1" height="1"/><rect x="465" y="233" width="1" height="1"/><rect x="468" y="233" width="1" height="1"/><rect x="471" y="233" width="1" height="1"/><rect x="474" y="233" width="1" height="1"/><rect x="477" y="233" width="1" height="1"/><rect x="480" y="233" width="1" height="1"/><rect x="483" y="233" width="1" height="1"/><rect x="486" y="233" width="1" height="1"/><rect x="489" y="233" width="1" height="1"/><rect x="492" y="233" width="1" height="1"/><rect x="495" y="233" width="1" height="1"/><rect x="498" y="233" width="1" height="1"/><rect x="501" y="233" width="1" height="1"/><rect x="504" y="233" width="1" height="1"/><rect x="507" y="233" width="1" height="1"/><rect x="510" y="233" width="1" height="1"/><rect x="513" y="233" width="1" height="1"/><rect x="516" y="233" width="1" height="1"/><rect x="519" y="233" width="1" height="1"/><rect x="522" y="233" width="1" height="1"/><rect x="525" y="233" width="1" height="1"/><rect x="528" y="233" width="1" height="1"/><rect x="531" y="233" width="1" height="1"/><rect x="534" y="233" width="1" height="1"/><rect x="537" y="233" width="1" height="1"/><rect x="540" y="233" width="1" height="1"/><rect x="543" y="233" width="1" height="1"/><rect x="546" y="233" width="1" height="1"/><rect x="549" y="233" width="1" height="1"/><rect x="552" y="233" width="1" height="1"/><rect x="555" y="233" width="1" height="1"/><rect x="558" y="233" width="1" height="1"/><rect x="561" y="233" width="1" height="1"/><rect x="564" y="233" width="1" height="1"/><rect x="567" y="233" width="1" height="1"/><rect x="570" y="233" width="1" height="1"/><rect x="573" y="233" width="1" height="1"/><rect x="576" y="233" width="1" height="1"/><rect x="579" y="233" width="1" height="1"/><rect x="582" y="233" width="1" height="1"/><rect x="585" y="233" width="1" height="1"/><rect x="588" y="233" width="1" height="1"/><rect x="591" y="233" width="1" height="1"/><rect x="594" y="233" width="1" height="1"/><rect x="597" y="233" width="1" height="1"/><rect x="600" y="233" width="1" height="1"/><rect x="603" y="233" width="1" height="1"/><rect x="606" y="233" width="1" height="1"/><rect x="609" y="233" width="1" height="1"/><rect x="612" y="233" width="1" height="1"/><rect x="615" y="233" width="1" height="1"/><rect x="618" y="233" width="1" height="1"/><rect x="621" y="233" width="1" height="1"/><rect x="624" y="233" width="1" height="1"/><rect x="627" y="233" width="1" height="1"/><rect x="630" y="233" width="1" height="1"/><rect x="633" y="233" width="1" height="1"/><rect x="636" y="233" width="1" height="1"/><rect x="639" y="233" width="1" height="1"/><rect x="642" y="233" width="1" height="1"/><rect x="645" y="233" width="1" height="1"/><rect x="648" y="233" width="1" height="1"/><rect x="651" y="233" width="1" height="1"/><rect x="654" y="233" width="1" height="1"/><rect x="657" y="233" width="1" height="1"/><rect x="660" y="233" width="1" height="1"/><rect x="663" y="233" width="1" height="1"/><rect x="666" y="233" width="1" height="1"/><rect x="669" y="233" width="1" height="1"/><rect x="672" y="233" width="1" height="1"/><rect x="675" y="233" width="1" height="1"/><rect x="678" y="233" width="1" height="1"/><rect x="681" y="233" width="1" height="1"/><rect x="684" y="233" width="1" height="1"/><rect x="687" y="233" width="1" height="1"/><rect x="690" y="233" width="1" height="1"/><rect x="693" y="233" width="1" height="1"/><rect x="696" y="233" width="1" height="1"/><rect x="699" y="233" width="1" height="1"/><rect x="702" y="233" width="1" height="1"/><rect x="705" y="233" width="1" height="1"/><rect x="708" y="233" width="1" height="1"/><rect x="711" y="233" width="1" height="1"/><rect x="714" y="233" width="1" height="1"/><rect x="717" y="233" width="1" height="1"/><rect x="720" y="233" width="1" height="1"/><rect x="723" y="233" width="1" height="1"/><rect x="726" y="233" width="1" height="1"/><rect x="729" y="233" width="1" height="1"/><rect x="732" y="233" width="1" height="1"/><rect x="735" y="233" width="1" height="1"/><rect x="738" y="233" width="1" height="1"/><rect x="741" y="233" width="1" height="1"/><rect x="744" y="233" width="1" height="1"/><rect x="747" y="233" width="1" height="1"/><rect x="750" y="233" width="1" height="1"/><rect x="753" y="233" width="1" height="1"/><rect x="756" y="233" width="1" height="1"/><rect x="759" y="233" width="1" height="1"/><rect x="762" y="233" width="1" height="1"/><rect x="765" y="233" width="1" height="1"/><rect x="768" y="233" width="1" height="1"/><rect x="771" y="233" width="1" height="1"/><rect x="774" y="233" width="1" height="1"/><rect x="777" y="233" width="1" height="1"/><rect x="780" y="233" width="1" height="1"/><rect x="783" y="233" width="1" height="1"/><rect x="786" y="233" width="1" height="1"/><rect x="789" y="233" width="1" height="1"/><rect x="792" y="233" width="1" height="1"/><rect x="795" y="233" width="1" height="1"/><rect x="798" y="233" width="1" height="1"/><rect x="801" y="233" width="1" height="1"/><rect x="804" y="233" width="1" height="1"/><rect x="807" y="233" width="1" height="1"/><rect x="810" y="233" width="1" height="1"/><rect x="813" y="233" width="1" height="1"/><rect x="816" y="233" width="1" height="1"/><rect x="819" y="233" width="1" height="1"/><rect x="822" y="233" width="1" height="1"/><rect x="825" y="233" width="1" height="1"/><rect x="828" y="233" width="1" height="1"/><rect x="831" y="233" width="1" height="1"/><rect x="834" y="233" width="1" height="1"/><rect x="837" y="233" width="1" height="1"/><rect x="840" y="233" width="1" height="1"/><rect x="843" y="233" width="1" height="1"/><rect x="846" y="233" width="1" height="1"/><rect x="849" y="233" width="1" height="1"/><rect x="852" y="233" width="1" height="1"/><rect x="855" y="233" width="1" height="1"/><rect x="858" y="233" width="1" height="1"/><rect x="861" y="233" width="1" height="1"/><rect x="864" y="233" width="1" height="1"/><rect x="867" y="233" width="1" height="1"/><rect x="870" y="233" width="1" height="1"/><rect x="873" y="233" width="1" height="1"/><rect x="876" y="233" width="1" height="1"/><rect x="879" y="233" width="1" height="1"/><rect x="882" y="233" width="1" height="1"/><rect x="885" y="233" width="1" height="1"/><rect x="888" y="233" width="1" height="1"/></g>
<g fill="#0ea640" shape-rendering="crispEdges"><rect x="291" y="270" width="1" height="1"/><rect x="294" y="270" width="1" height="1"/><rect x="297" y="270" width="1" height="1"/><rect x="300" y="270" width="1" height="1"/><rect x="303" y="270" width="1" height="1"/><rect x="306" y="270" width="1" height="1"/><rect x="309" y="270" width="1" height="1"/><rect x="312" y="270" width="1" height="1"/><rect x="315" y="270" width="1" height="1"/><rect x="318" y="270" width="1" height="1"/><rect x="321" y="270" width="1" height="1"/><rect x="324" y="270" width="1" height="1"/><rect x="327" y="270" width="1" height="1"/><rect x="330" y="270" width="1" height="1"/><rect x="333" y="270" width="1" height="1"/><rect x="336" y="270" width="1" height="1"/><rect x="339" y="270" width="1" height="1"/><rect x="342" y="270" width="1" height="1"/><rect x="345" y="270" width="1" height="1"/><rect x="348" y="270" width="1" height="1"/><rect x="351" y="270" width="1" height="1"/><rect x="354" y="270" width="1" height="1"/><rect x="357" y="270" width="1" height="1"/><rect x="360" y="270" width="1" height="1"/><rect x="363" y="270" width="1" height="1"/><rect x="366" y="270" width="1" height="1"/><rect x="369" y="270" width="1" height="1"/><rect x="372" y="270" width="1" height="1"/><rect x="375" y="270" width="1" height="1"/><rect x="378" y="270" width="1" height="1"/><rect x="381" y="270" width="1" height="1"/><rect x="384" y="270" width="1" height="1"/><rect x="387" y="270" width="1" height="1"/><rect x="390" y="270" width="1" height="1"/><rect x="393" y="270" width="1" height="1"/><rect x="396" y="270" width="1" height="1"/><rect x="399" y="270" width="1" height="1"/><rect x="402" y="270" width="1" height="1"/><rect x="405" y="270" width="1" height="1"/><rect x="408" y="270" width="1" height="1"/><rect x="411" y="270" width="1" height="1"/><rect x="414" y="270" width="1" height="1"/><rect x="417" y="270" width="1" height="1"/><rect x="420" y="270" width="1" height="1"/><rect x="423" y="270" width="1" height="1"/><rect x="426" y="270" width="1" height="1"/><rect x="429" y="270" width="1" height="1"/><rect x="432" y="270" width="1" height="1"/><rect x="435" y="270" width="1" height="1"/><rect x="438" y="270" width="1" height="1"/><rect x="441" y="270" width="1" height="1"/><rect x="444" y="270" width="1" height="1"/><rect x="447" y="270" width="1" height="1"/><rect x="450" y="270" width="1" height="1"/><rect x="453" y="270" width="1" height="1"/><rect x="456" y="270" width="1" height="1"/><rect x="459" y="270" width="1" height="1"/><rect x="462" y="270" width="1" height="1"/><rect x="465" y="270" width="1" height="1"/><rect x="468" y="270" width="1" height="1"/><rect x="471" y="270" width="1" height="1"/><rect x="474" y="270" width="1" height="1"/><rect x="477" y="270" width="1" height="1"/><rect x="480" y="270" width="1" height="1"/><rect x="483" y="270" width="1" height="1"/><rect x="486" y="270" width="1" height="1"/><rect x="489" y="270" width="1" height="1"/><rect x="492" y="270" width="1" height="1"/><rect x="495" y="270" width="1" height="1"/><rect x="498" y="270" width="1" height="1"/><rect x="501" y="270" width="1" height="1"/><rect x="504" y="270" width="1" height="1"/><rect x="507" y="270" width="1" height="1"/><rect x="510" y="270" width="1" height="1"/><rect x="513" y="270" width="1" height="1"/><rect x="516" y="270" width="1" height="1"/><rect x="519" y="270" width="1" height="1"/><rect x="522" y="270" width="1" height="1"/><rect x="525" y="270" width="1" height="1"/><rect x="528" y="270" width="1" height="1"/><rect x="531" y="270" width="1" height="1"/><rect x="534" y="270" width="1" height="1"/><rect x="537" y="270" width="1" height="1"/><rect x="540" y="270" width="1" height="1"/><rect x="543" y="270" width="1" height="1"/><rect x="546" y="270" width="1" height="1"/><rect x="549" y="270" width="1" height="1"/><rect x="552" y="270" width="1" height="1"/><rect x="555" y="270" width="1" height="1"/><rect x="558" y="270" width="1" height="1"/><rect x="561" y="270" width="1" height="1"/><rect x="564" y="270" width="1" height="1"/><rect x="567" y="270" width="1" height="1"/><rect x="570" y="270" width="1" height="1"/><rect x="573" y="270" width="1" height="1"/><rect x="576" y="270" width="1" height="1"/><rect x="579" y="270" width="1" height="1"/><rect x="582" y="270" width="1" height="1"/><rect x="585" y="270" width="1" height="1"/><rect x="588" y="270" width="1" height="1"/><rect x="591" y="270" width="1" height="1"/><rect x="594" y="270" width="1" height="1"/><rect x="597" y="270" width="1" height="1"/><rect x="600" y="270" width="1" height="1"/><rect x="603" y="270" width="1" height="1"/><rect x="606" y="270" width="1" height="1"/><rect x="609" y="270" width="1" height="1"/><rect x="612" y="270" width="1" height="1"/><rect x="615" y="270" width="1" height="1"/><rect x="618" y="270" width="1" height="1"/><rect x="621" y="270" width="1" height="1"/><rect x="624" y="270" width="1" height="1"/><rect x="627" y="270" width="1" height="1"/><rect x="630" y="270" width="1" height="1"/><rect x="633" y="270" width="1" height="1"/><rect x="636" y="270" width="1" height="1"/><rect x="639" y="270" width="1" height="1"/><rect x="642" y="270" width="1" height="1"/><rect x="645" y="270" width="1" height="1"/><rect x="648" y="270" width="1" height="1"/><rect x="651" y="270" width="1" height="1"/><rect x="654" y="270" width="1" height="1"/><rect x="657" y="270" width="1" height="1"/><rect x="660" y="270" width="1" height="1"/><rect x="663" y="270" width="1" height="1"/><rect x="666" y="270" width="1" height="1"/><rect x="669" y="270" width="1" height="1"/><rect x="672" y="270" width="1" height="1"/><rect x="675" y="270" width="1" height="1"/><rect x="678" y="270" width="1" height="1"/><rect x="681" y="270" width="1" height="1"/><rect x="684" y="270" width="1" height="1"/><rect x="687" y="270" width="1" height="1"/><rect x="690" y="270" width="1" height="1"/><rect x="693" y="270" width="1" height="1"/><rect x="696" y="270" width="1" height="1"/><rect x="699" y="270" width="1" height="1"/><rect x="702" y="270" width="1" height="1"/><rect x="705" y="270" width="1" height="1"/><rect x="708" y="270" width="1" height="1"/><rect x="711" y="270" width="1" height="1"/><rect x="714" y="270" width="1" height="1"/><rect x="717" y="270" width="1" height="1"/><rect x="720" y="270" width="1" height="1"/><rect x="723" y="270" width="1" height="1"/><rect x="726" y="270" width="1" height="1"/><rect x="729" y="270" width="1" height="1"/><rect x="732" y="270" width="1" height="1"/><rect x="735" y="270" width="1" height="1"/><rect x="738" y="270" width="1" height="1"/><rect x="741" y="270" width="1" height="1"/><rect x="744" y="270" width="1" height="1"/><rect x="747" y="270" width="1" height="1"/><rect x="750" y="270" width="1" height="1"/><rect x="753" y="270" width="1" height="1"/><rect x="756" y="270" width="1" height="1"/><rect x="759" y="270" width="1" height="1"/><rect x="762" y="270" width="1" height="1"/><rect x="765" y="270" width="1" height="1"/><rect x="768" y="270" width="1" height="1"/><rect x="771" y="270" width="1" height="1"/><rect x="774" y="270" width="1" height="1"/><rect x="777" y="270" width="1" height="1"/><rect x="780" y="270" width="1" height="1"/><rect x="783" y="270" width="1" height="1"/><rect x="786" y="270" width="1" height="1"/><rect x="789" y="270" width="1" height="1"/><rect x="792" y="270" width="1" height="1"/><rect x="795" y="270" width="1" height="1"/><rect x="798" y="270" width="1" height="1"/><rect x="801" y="270" width="1" height="1"/><rect x="804" y="270" width="1" height="1"/><rect x="807" y="270" width="1" height="1"/><rect x="810" y="270" width="1" height="1"/><rect x="813" y="270" width="1" height="1"/><rect x="816" y="270" width="1" height="1"/><rect x="819" y="270" width="1" height="1"/><rect x="822" y="270" width="1" height="1"/><rect x="825" y="270" width="1" height="1"/><rect x="828" y="270" width="1" height="1"/><rect x="831" y="270" width="1" height="1"/><rect x="834" y="270" width="1" height="1"/><rect x="837" y="270" width="1" height="1"/><rect x="840" y="270" width="1" height="1"/><rect x="843" y="270" width="1" height="1"/><rect x="846" y="270" width="1" height="1"/><rect x="849" y="270" width="1" height="1"/><rect x="852" y="270" width="1" height="1"/><rect x="855" y="270" width="1" height="1"/><rect x="858" y="270" width="1" height="1"/><rect x="861" y="270" width="1" height="1"/><rect x="864" y="270" width="1" height="1"/><rect x="867" y="270" width="1" height="1"/><rect x="870" y="270" width="1" height="1"/><rect x="873" y="270" width="1" height="1"/><rect x="876" y="270" width="1" height="1"/><rect x="879" y="270" width="1" height="1"/><rect x="882" y="270" width="1" height="1"/><rect x="885" y="270" width="1" height="1"/><rect x="888" y="270" width="1" height="1"/></g>
<rect x="385" y="282" width="505" height="1" fill="#0ea640" shape-rendering="crispEdges"/>
<g fill="#0ea640" shape-rendering="crispEdges"><rect x="45" y="472" width="1" height="1"/><rect x="48" y="472" width="1" height="1"/><rect x="51" y="472" width="1" height="1"/><rect x="54" y="472" width="1" height="1"/><rect x="57" y="472" width="1" height="1"/><rect x="60" y="472" width="1" height="1"/><rect x="63" y="472" width="1" height="1"/><rect x="66" y="472" width="1" height="1"/><rect x="69" y="472" width="1" height="1"/><rect x="72" y="472" width="1" height="1"/><rect x="75" y="472" width="1" height="1"/><rect x="78" y="472" width="1" height="1"/><rect x="81" y="472" width="1" height="1"/><rect x="84" y="472" width="1" height="1"/><rect x="87" y="472" width="1" height="1"/><rect x="90" y="472" width="1" height="1"/><rect x="93" y="472" width="1" height="1"/><rect x="96" y="472" width="1" height="1"/><rect x="99" y="472" width="1" height="1"/><rect x="102" y="472" width="1" height="1"/><rect x="105" y="472" width="1" height="1"/><rect x="108" y="472" width="1" height="1"/><rect x="111" y="472" width="1" height="1"/><rect x="114" y="472" width="1" height="1"/><rect x="117" y="472" width="1" height="1"/><rect x="120" y="472" width="1" height="1"/><rect x="123" y="472" width="1" height="1"/><rect x="126" y="472" width="1" height="1"/><rect x="129" y="472" width="1" height="1"/><rect x="132" y="472" width="1" height="1"/><rect x="135" y="472" width="1" height="1"/><rect x="138" y="472" width="1" height="1"/><rect x="141" y="472" width="1" height="1"/><rect x="144" y="472" width="1" height="1"/><rect x="147" y="472" width="1" height="1"/><rect x="150" y="472" width="1" height="1"/><rect x="153" y="472" width="1" height="1"/><rect x="156" y="472" width="1" height="1"/><rect x="159" y="472" width="1" height="1"/><rect x="162" y="472" width="1" height="1"/><rect x="165" y="472" width="1" height="1"/><rect x="168" y="472" width="1" height="1"/><rect x="171" y="472" width="1" height="1"/><rect x="174" y="472" width="1" height="1"/><rect x="177" y="472" width="1" height="1"/><rect x="180" y="472" width="1" height="1"/><rect x="183" y="472" width="1" height="1"/><rect x="186" y="472" width="1" height="1"/><rect x="189" y="472" width="1" height="1"/><rect x="192" y="472" width="1" height="1"/><rect x="195" y="472" width="1" height="1"/><rect x="198" y="472" width="1" height="1"/><rect x="201" y="472" width="1" height="1"/><rect x="204" y="472" width="1" height="1"/><rect x="207" y="472" width="1" height="1"/><rect x="210" y="472" width="1" height="1"/><rect x="213" y="472" width="1" height="1"/><rect x="216" y="472" width="1" height="1"/><rect x="219" y="472" width="1" height="1"/><rect x="222" y="472" width="1" height="1"/><rect x="225" y="472" width="1" height="1"/><rect x="228" y="472" width="1" height="1"/><rect x="231" y="472" width="1" height="1"/><rect x="234" y="472" width="1" height="1"/><rect x="237" y="472" width="1" height="1"/><rect x="240" y="472" width="1" height="1"/><rect x="243" y="472" width="1" height="1"/><rect x="246" y="472" width="1" height="1"/><rect x="249" y="472" width="1" height="1"/><rect x="252" y="472" width="1" height="1"/><rect x="255" y="472" width="1" height="1"/><rect x="258" y="472" width="1" height="1"/><rect x="261" y="472" width="1" height="1"/><rect x="264" y="472" width="1" height="1"/><rect x="267" y="472" width="1" height="1"/><rect x="270" y="472" width="1" height="1"/><rect x="273" y="472" width="1" height="1"/><rect x="276" y="472" width="1" height="1"/><rect x="279" y="472" width="1" height="1"/><rect x="282" y="472" width="1" height="1"/><rect x="285" y="472" width="1" height="1"/><rect x="288" y="472" width="1" height="1"/><rect x="291" y="472" width="1" height="1"/><rect x="294" y="472" width="1" height="1"/><rect x="297" y="472" width="1" height="1"/><rect x="300" y="472" width="1" height="1"/><rect x="303" y="472" width="1" height="1"/><rect x="306" y="472" width="1" height="1"/><rect x="309" y="472" width="1" height="1"/><rect x="312" y="472" width="1" height="1"/><rect x="315" y="472" width="1" height="1"/><rect x="318" y="472" width="1" height="1"/><rect x="321" y="472" width="1" height="1"/><rect x="324" y="472" width="1" height="1"/><rect x="327" y="472" width="1" height="1"/><rect x="330" y="472" width="1" height="1"/><rect x="333" y="472" width="1" height="1"/><rect x="336" y="472" width="1" height="1"/><rect x="339" y="472" width="1" height="1"/><rect x="342" y="472" width="1" height="1"/><rect x="345" y="472" width="1" height="1"/><rect x="348" y="472" width="1" height="1"/><rect x="351" y="472" width="1" height="1"/><rect x="354" y="472" width="1" height="1"/><rect x="357" y="472" width="1" height="1"/><rect x="360" y="472" width="1" height="1"/><rect x="363" y="472" width="1" height="1"/><rect x="366" y="472" width="1" height="1"/><rect x="369" y="472" width="1" height="1"/><rect x="372" y="472" width="1" height="1"/><rect x="375" y="472" width="1" height="1"/><rect x="378" y="472" width="1" height="1"/><rect x="381" y="472" width="1" height="1"/><rect x="384" y="472" width="1" height="1"/><rect x="387" y="472" width="1" height="1"/><rect x="390" y="472" width="1" height="1"/><rect x="393" y="472" width="1" height="1"/><rect x="396" y="472" width="1" height="1"/><rect x="399" y="472" width="1" height="1"/><rect x="402" y="472" width="1" height="1"/><rect x="405" y="472" width="1" height="1"/><rect x="408" y="472" width="1" height="1"/><rect x="411" y="472" width="1" height="1"/><rect x="414" y="472" width="1" height="1"/><rect x="417" y="472" width="1" height="1"/><rect x="420" y="472" width="1" height="1"/><rect x="423" y="472" width="1" height="1"/><rect x="426" y="472" width="1" height="1"/><rect x="429" y="472" width="1" height="1"/><rect x="432" y="472" width="1" height="1"/><rect x="435" y="472" width="1" height="1"/><rect x="438" y="472" width="1" height="1"/><rect x="441" y="472" width="1" height="1"/><rect x="444" y="472" width="1" height="1"/><rect x="447" y="472" width="1" height="1"/><rect x="450" y="472" width="1" height="1"/><rect x="453" y="472" width="1" height="1"/><rect x="456" y="472" width="1" height="1"/><rect x="459" y="472" width="1" height="1"/><rect x="462" y="472" width="1" height="1"/><rect x="465" y="472" width="1" height="1"/><rect x="468" y="472" width="1" height="1"/><rect x="471" y="472" width="1" height="1"/><rect x="474" y="472" width="1" height="1"/><rect x="477" y="472" width="1" height="1"/><rect x="480" y="472" width="1" height="1"/><rect x="483" y="472" width="1" height="1"/><rect x="486" y="472" width="1" height="1"/><rect x="489" y="472" width="1" height="1"/><rect x="492" y="472" width="1" height="1"/><rect x="495" y="472" width="1" height="1"/><rect x="498" y="472" width="1" height="1"/><rect x="501" y="472" width="1" height="1"/><rect x="504" y="472" width="1" height="1"/><rect x="507" y="472" width="1" height="1"/><rect x="510" y="472" width="1" height="1"/><rect x="513" y="472" width="1" height="1"/><rect x="516" y="472" width="1" height="1"/><rect x="519" y="472" width="1" height="1"/><rect x="522" y="472" width="1" height="1"/><rect x="525" y="472" width="1" height="1"/><rect x="528" y="472" width="1" height="1"/><rect x="531" y="472" width="1" height="1"/><rect x="534" y="472" width="1" height="1"/><rect x="537" y="472" width="1" height="1"/><rect x="540" y="472" width="1" height="1"/><rect x="543" y="472" width="1" height="1"/><rect x="546" y="472" width="1" height="1"/><rect x="549" y="472" width="1" height="1"/><rect x="552" y="472" width="1" height="1"/><rect x="555" y="472" width="1" height="1"/><rect x="558" y="472" width="1" height="1"/><rect x="561" y="472" width="1" height="1"/><rect x="564" y="472" width="1" height="1"/><rect x="567" y="472" width="1" height="1"/><rect x="570" y="472" width="1" height="1"/><rect x="573" y="472" width="1" height="1"/><rect x="576" y="472" width="1" height="1"/><rect x="579" y="472" width="1" height="1"/><rect x="582" y="472" width="1" height="1"/><rect x="585" y="472" width="1" height="1"/><rect x="588" y="472" width="1" height="1"/><rect x="591" y="472" width="1" height="1"/><rect x="594" y="472" width="1" height="1"/><rect x="597" y="472" width="1" height="1"/><rect x="600" y="472" width="1" height="1"/><rect x="603" y="472" width="1" height="1"/><rect x="606" y="472" width="1" height="1"/><rect x="609" y="472" width="1" height="1"/><rect x="612" y="472" width="1" height="1"/><rect x="615" y="472" width="1" height="1"/><rect x="618" y="472" width="1" height="1"/><rect x="621" y="472" width="1" height="1"/><rect x="624" y="472" width="1" height="1"/><rect x="627" y="472" width="1" height="1"/><rect x="630" y="472" width="1" height="1"/><rect x="633" y="472" width="1" height="1"/><rect x="636" y="472" width="1" height="1"/><rect x="639" y="472" width="1" height="1"/><rect x="642" y="472" width="1" height="1"/><rect x="645" y="472" width="1" height="1"/><rect x="648" y="472" width="1" height="1"/><rect x="651" y="472" width="1" height="1"/><rect x="654" y="472" width="1" height="1"/><rect x="657" y="472" width="1" height="1"/><rect x="660" y="472" width="1" height="1"/><rect x="663" y="472" width="1" height="1"/><rect x="666" y="472" width="1" height="1"/><rect x="669" y="472" width="1" height="1"/><rect x="672" y="472" width="1" height="1"/><rect x="675" y="472" width="1" height="1"/><rect x="678" y="472" width="1" height="1"/><rect x="681" y="472" width="1" height="1"/><rect x="684" y="472" width="1" height="1"/><rect x="687" y="472" width="1" height="1"/><rect x="690" y="472" width="1" height="1"/><rect x="693" y="472" width="1" height="1"/><rect x="696" y="472" width="1" height="1"/><rect x="699" y="472" width="1" height="1"/><rect x="702" y="472" width="1" height="1"/><rect x="705" y="472" width="1" height="1"/><rect x="708" y="472" width="1" height="1"/><rect x="711" y="472" width="1" height="1"/><rect x="714" y="472" width="1" height="1"/><rect x="717" y="472" width="1" height="1"/><rect x="720" y="472" width="1" height="1"/><rect x="723" y="472" width="1" height="1"/><rect x="726" y="472" width="1" height="1"/><rect x="729" y="472" width="1" height="1"/><rect x="732" y="472" width="1" height="1"/><rect x="735" y="472" width="1" height="1"/><rect x="738" y="472" width="1" height="1"/><rect x="741" y="472" width="1" height="1"/><rect x="744" y="472" width="1" height="1"/><rect x="747" y="472" width="1" height="1"/><rect x="750" y="472" width="1" height="1"/><rect x="753" y="472" width="1" height="1"/><rect x="756" y="472" width="1" height="1"/><rect x="759" y="472" width="1" height="1"/><rect x="762" y="472" width="1" height="1"/><rect x="765" y="472" width="1" height="1"/><rect x="768" y="472" width="1" height="1"/><rect x="771" y="472" width="1" height="1"/><rect x="774" y="472" width="1" height="1"/><rect x="777" y="472" width="1" height="1"/><rect x="780" y="472" width="1" height="1"/><rect x="783" y="472" width="1" height="1"/><rect x="786" y="472" width="1" height="1"/><rect x="789" y="472" width="1" height="1"/><rect x="792" y="472" width="1" height="1"/><rect x="795" y="472" width="1" height="1"/><rect x="798" y="472" width="1" height="1"/><rect x="801" y="472" width="1" height="1"/><rect x="804" y="472" width="1" height="1"/><rect x="807" y="472" width="1" height="1"/><rect x="810" y="472" width="1" height="1"/><rect x="813" y="472" width="1" height="1"/><rect x="816" y="472" width="1" height="1"/><rect x="819" y="472" width="1" height="1"/><rect x="822" y="472" width="1" height="1"/><rect x="825" y="472" width="1" height="1"/><rect x="828" y="472" width="1" height="1"/><rect x="831" y="472" width="1" height="1"/><rect x="834" y="472" width="1" height="1"/><rect x="837" y="472" width="1" height="1"/><rect x="840" y="472" width="1" height="1"/><rect x="843" y="472" width="1" height="1"/><rect x="846" y="472" width="1" height="1"/><rect x="849" y="472" width="1" height="1"/><rect x="852" y="472" width="1" height="1"/><rect x="855" y="472" width="1" height="1"/><rect x="858" y="472" width="1" height="1"/><rect x="861" y="472" width="1" height="1"/><rect x="864" y="472" width="1" height="1"/><rect x="867" y="472" width="1" height="1"/><rect x="870" y="472" width="1" height="1"/><rect x="873" y="472" width="1" height="1"/><rect x="876" y="472" width="1" height="1"/><rect x="879" y="472" width="1" height="1"/><rect x="882" y="472" width="1" height="1"/><rect x="885" y="472" width="1" height="1"/><rect x="888" y="472" width="1" height="1"/></g>
<g font-family="Liberation Sans, Arial, sans-serif" font-weight="bold" font-size="12" fill="#2b2bff" text-anchor="middle"><text x="634.3" y="306.4">A bearish engulfing candle marked a</text><text x="634.6" y="321">breakout with candle close beneath</text><text x="634.5" y="336">92.00 and its 200-bar eMA</text></g>
<rect x="653" y="433" width="219" height="31" fill="#18222c"/>
<text x="652.5" y="461.5" font-size="38" fill="#fff" font-family="Liberation Sans, Arial, sans-serif" textLength="87" lengthAdjust="spacingAndGlyphs">CITY</text>
<text x="751.5" y="461.5" font-size="38" fill="#f5ee0a" font-family="Liberation Sans, Arial, sans-serif" textLength="120.5" lengthAdjust="spacingAndGlyphs">INDEX</text>
<g shape-rendering="crispEdges" fill="#000"><rect x="6" y="4" width="939" height="1"/><rect x="6" y="4" width="1" height="523"/><rect x="944" y="4" width="1" height="523"/><rect x="6" y="526" width="939" height="1"/><rect x="6" y="498" width="939" height="1"/><rect x="890" y="4" width="1" height="523"/></g>
<g shape-rendering="crispEdges" fill="#000"><rect x="80" y="499" width="1" height="4"/><rect x="197" y="499" width="1" height="4"/><rect x="315" y="499" width="1" height="4"/><rect x="432" y="499" width="1" height="4"/><rect x="518" y="499" width="1" height="4"/><rect x="612" y="499" width="1" height="4"/><rect x="705" y="499" width="1" height="4"/><rect x="784" y="499" width="1" height="4"/></g>
<g font-size="11" fill="#5e5e5e" text-anchor="middle"><text x="80.5" y="515">Mar</text><text x="197.5" y="515">8</text><text x="315.5" y="515">15</text><text x="432.5" y="515">22</text><text x="518.5" y="515">26</text><text x="612.5" y="515">Apr</text><text x="705.5" y="515">7</text><text x="784.5" y="515">12</text></g>
<g shape-rendering="crispEdges" fill="#000"><rect x="891" y="22" width="4" height="1"/><rect x="891" y="81" width="4" height="1"/><rect x="891" y="258" width="4" height="1"/><rect x="891" y="317" width="4" height="1"/><rect x="891" y="376" width="4" height="1"/><rect x="891" y="435" width="4" height="1"/><rect x="891" y="494" width="4" height="1"/></g>
<g font-size="11" fill="#555"><text x="900" y="25.6">93.500</text><text x="900" y="84.6">93.000</text><text x="900" y="261.6">91.500</text><text x="900" y="320.6">91.000</text><text x="900" y="379.6">90.500</text><text x="900" y="438.6">90.000</text><text x="900" y="497.6">89.500</text></g>
<path d="M890,132.1 H936 a2,2 0 0 1 2,2 V146.8 a2,2 0 0 1 -2,2 H890 Z" fill="#164f5d"/><rect x="890" y="140" width="5" height="1" fill="#fff" shape-rendering="crispEdges"/><text x="899.2" y="144.5" font-size="11" fill="#fff" font-weight="bold">92.503</text>
<path d="M890,153.2 H936 a2,2 0 0 1 2,2 V168 a2,2 0 0 1 -2,2 H890 Z" fill="#164f5d"/><rect x="890" y="161" width="5" height="1" fill="#fff" shape-rendering="crispEdges"/><text x="899.2" y="165.3" font-size="11" fill="#fff" font-weight="bold">92.325</text>
<path d="M890,191.2 H936 a2,2 0 0 1 2,2 V205.5 a2,2 0 0 1 -2,2 H890 Z" fill="#03a83e"/><rect x="890" y="199" width="5" height="1" fill="#fff" shape-rendering="crispEdges"/><text x="899.2" y="203.4" font-size="11" fill="#fff" font-weight="bold">92.000</text>
<path d="M890,211.2 H936 a2,2 0 0 1 2,2 V225.5 a2,2 0 0 1 -2,2 H890 Z" fill="#9598a3"/><rect x="890" y="219" width="5" height="1" fill="#000" shape-rendering="crispEdges"/><text x="899.2" y="223.4" font-size="11" fill="#222" font-weight="normal">91.834</text>
<path d="M890,226.1 H936 a2,2 0 0 1 2,2 V240.5 a2,2 0 0 1 -2,2 H890 Z" fill="#03a83e"/><rect x="890" y="234" width="5" height="1" fill="#fff" shape-rendering="crispEdges"/><text x="899.2" y="238.0" font-size="11" fill="#fff" font-weight="bold">91.709</text>
<path d="M890,262.2 H936 a2,2 0 0 1 2,2 V291.9 a2,2 0 0 1 -2,2 H890 Z" fill="#03a83e"/><rect x="890" y="270" width="5" height="1" fill="#fff" shape-rendering="crispEdges"/><text x="899.2" y="274.4" font-size="11" fill="#fff" font-weight="bold">91.400</text><rect x="890" y="285" width="5" height="1" fill="#fff" shape-rendering="crispEdges"/><text x="899.2" y="289.4" font-size="11" fill="#fff" font-weight="bold">91.301</text>
<path d="M890,464.2 H936 a2,2 0 0 1 2,2 V478.6 a2,2 0 0 1 -2,2 H890 Z" fill="#03a83e"/><rect x="890" y="472" width="5" height="1" fill="#fff" shape-rendering="crispEdges"/><text x="899.2" y="476.3" font-size="11" fill="#fff" font-weight="bold">89.683</text>
<rect x="903.5" y="11.5" width="27" height="17" rx="4" fill="#fff" stroke="#d3d7e0" stroke-width="1"/>
<text x="907.6" y="24" font-size="11" fill="#5a5a5a" textLength="18.4" lengthAdjust="spacingAndGlyphs">USD</text>
<text x="15.5" y="26.3" font-size="12.2" font-weight="bold" fill="#555" textLength="238.5" lengthAdjust="spacingAndGlyphs">U.S. DOLLAR CURRENCY INDEX, 4h, ICEUS</text>
<text x="15.5" y="42.9" font-size="12.2" fill="#555">EMA (50, close)</text>
</svg></body></html>
